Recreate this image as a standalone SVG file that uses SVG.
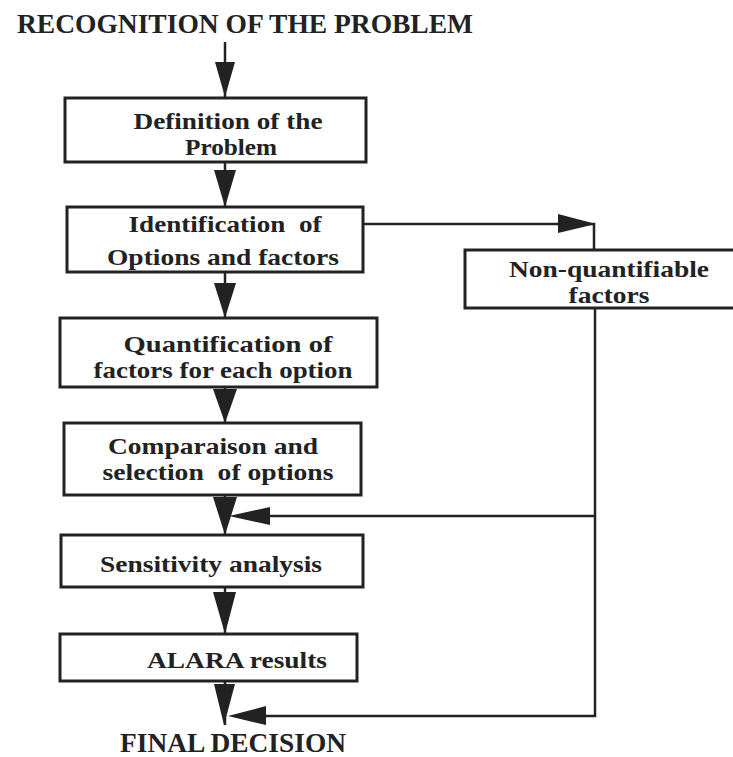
<svg xmlns="http://www.w3.org/2000/svg" width="733" height="757" viewBox="0 0 733 757">
<style>
.box{fill:#fff;stroke:#222;stroke-width:3}
.t{font-family:"Liberation Serif","Times New Roman",serif;font-weight:bold;font-size:23px;fill:#222;text-anchor:middle}
.h{font-family:"Liberation Serif","Times New Roman",serif;font-weight:bold;font-size:27px;fill:#222}
.ln{fill:none;stroke:#222;stroke-width:2.5}
.ah{fill:#222;stroke:none}
</style>
<rect width="733" height="757" fill="#fff"/>
<text class="h" x="17" y="33" textLength="456" lengthAdjust="spacingAndGlyphs">RECOGNITION OF THE PROBLEM</text>
<text class="h" x="120" y="752" textLength="226" lengthAdjust="spacingAndGlyphs">FINAL DECISION</text>

<g id="connectors">
  <line class="ln" x1="225" y1="42" x2="225" y2="97"/>
  <polygon class="ah" points="215,62 235,62 225,97"/>
  <line class="ln" x1="225" y1="162" x2="225" y2="207"/>
  <polygon class="ah" points="214,170 236,170 225,207"/>
  <line class="ln" x1="225" y1="272" x2="225" y2="318"/>
  <polygon class="ah" points="214,283 236,283 225,318"/>
  <line class="ln" x1="225" y1="387" x2="225" y2="423"/>
  <polygon class="ah" points="213,389 237,389 225,423"/>
  <line class="ln" x1="225" y1="495" x2="225" y2="535"/>
  <polygon class="ah" points="213,497 237,497 225,535"/>
  <line class="ln" x1="225" y1="587" x2="225" y2="634"/>
  <polygon class="ah" points="213,592 236,592 225,634"/>
  <line class="ln" x1="225" y1="681" x2="225" y2="725"/>
  <polygon class="ah" points="214,684 235,684 224,725"/>
  <polyline class="ln" points="363,224 594,224 594,250"/>
  <polygon class="ah" points="558,214 596,224 558,233"/>
  <polyline class="ln" points="595,308 595,716 262,716"/>
  <line class="ln" x1="595" y1="516" x2="262" y2="516"/>
  <polygon class="ah" points="270,507 229,516 270,525"/>
  <polygon class="ah" points="266,706 228,716 266,725"/>
</g>

<g id="n1">
  <rect class="box" x="65" y="98" width="301" height="64"/>
  <text class="t" x="228" y="129" textLength="189" lengthAdjust="spacingAndGlyphs">Definition of the</text>
  <text class="t" x="231" y="155" textLength="92" lengthAdjust="spacingAndGlyphs">Problem</text>
</g>
<g id="n2">
  <rect class="box" x="67" y="207" width="296" height="65"/>
  <text class="t" x="225" y="232" xml:space="preserve" textLength="193" lengthAdjust="spacingAndGlyphs">Identification  of</text>
  <text class="t" x="223" y="265" textLength="232" lengthAdjust="spacingAndGlyphs">Options and factors</text>
</g>
<g id="n3">
  <rect class="box" x="465" y="250" width="280" height="58"/>
  <text class="t" x="609" y="277" textLength="200" lengthAdjust="spacingAndGlyphs">Non-quantifiable</text>
  <text class="t" x="609" y="303" textLength="81" lengthAdjust="spacingAndGlyphs">factors</text>
</g>
<g id="n4">
  <rect class="box" x="60" y="318" width="317" height="69"/>
  <text class="t" x="228" y="352" textLength="209" lengthAdjust="spacingAndGlyphs">Quantification of</text>
  <text class="t" x="223" y="378" textLength="259" lengthAdjust="spacingAndGlyphs">factors for each option</text>
</g>
<g id="n5">
  <rect class="box" x="64" y="423" width="297" height="72"/>
  <text class="t" x="213" y="454" textLength="210" lengthAdjust="spacingAndGlyphs">Comparaison and</text>
  <text class="t" x="218" y="480" xml:space="preserve" textLength="231" lengthAdjust="spacingAndGlyphs">selection  of options</text>
</g>
<g id="n6">
  <rect class="box" x="61" y="535" width="302" height="52"/>
  <text class="t" x="211" y="572" textLength="222" lengthAdjust="spacingAndGlyphs">Sensitivity analysis</text>
</g>
<g id="n7">
  <rect class="box" x="60" y="634" width="297" height="47"/>
  <text class="t" x="237" y="668" textLength="180" lengthAdjust="spacingAndGlyphs">ALARA results</text>
</g>
</svg>
